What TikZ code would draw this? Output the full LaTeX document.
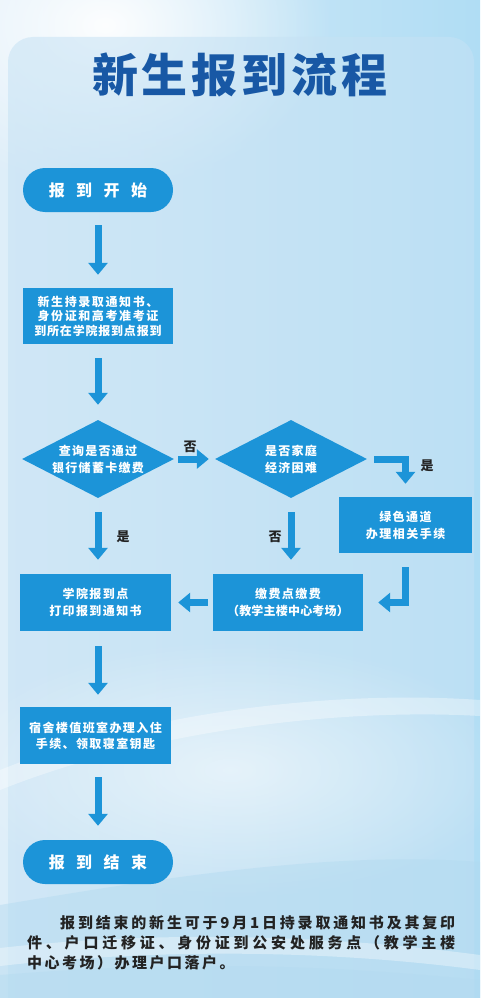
\documentclass[tikz,border=0pt]{standalone}
\usepackage{fontspec}
\setmainfont{Noto Sans CJK SC}
\usetikzlibrary{arrows.meta,shapes.geometric,fadings}

\definecolor{flowblue}{RGB}{28,148,216}
\definecolor{titleblue}{RGB}{24,88,165}
\definecolor{labelgray}{RGB}{35,35,35}
\definecolor{bgleft}{RGB}{222,238,249}
\definecolor{bgright}{RGB}{176,221,244}
\definecolor{panelblue}{RGB}{198,226,244}
\definecolor{waveblue}{RGB}{178,218,240}

% soft round glow: opaque in the middle, fully clear at the rim
\tikzfading[name=softglow, inner color=transparent!0, outer color=transparent!100]

% set a string character by character with a given gap between glyphs
\newcommand\spreadsep{}
\def\spreadloop#1{\ifx#1\relax\else#1\spreadsep\expandafter\spreadloop\fi}
\newcommand\spread[2]{\def\spreadsep{\hspace{#1}}\spreadloop#2\relax\unskip}

\begin{document}
\begin{tikzpicture}[x=1pt,y=-1pt,
  flow/.style={fill=flowblue, text=white, inner sep=0pt, align=center,
    font=\bfseries\fontsize{12}{17}\selectfont},
  stepbox/.style={flow, rectangle, minimum height=57pt},
  pill/.style={flow, rectangle, rounded corners=22pt, minimum width=150pt,
    minimum height=44pt, font=\bfseries\fontsize{16}{16}\selectfont},
  choice/.style={flow, diamond, minimum width=152pt, minimum height=78pt},
  choicetext/.style={text=white, inner sep=0pt, align=center,
    font=\bfseries\fontsize{12}{17}\selectfont},
  arr/.style={draw=flowblue, line width=7pt, -{Triangle[length=12pt,width=19pt]}},
  answer/.style={text=labelgray, inner sep=0pt, font=\bfseries\fontsize{13}{13}\selectfont},
  note/.style={text=labelgray, inner sep=0pt, anchor=base west,
    font=\bfseries\fontsize{15}{20}\selectfont}
]
\useasboundingbox (0,0) rectangle (480,998);

% ---- background ----
\shade[left color=bgleft, right color=bgright] (0,0) rectangle (480,998);
\fill[white, path fading=softglow, opacity=0.95] (-120,-140) rectangle (330,190);
\fill[panelblue, opacity=0.55, rounded corners=25pt] (8,37) rectangle (474,1040);
\fill[white, path fading=softglow, opacity=0.55] (-60,640) rectangle (520,900);
\fill[white, opacity=0.35] (0,770) .. controls (150,710) and (340,690) .. (480,700)
  -- (480,716) .. controls (340,708) and (150,730) .. (0,790) -- cycle;
\fill[waveblue, opacity=0.45] (0,905) .. controls (150,880) and (330,850) .. (480,862)
  -- (480,998) -- (0,998) -- cycle;
\fill[white, opacity=0.35] (0,948) .. controls (160,930) and (330,935) .. (480,955)
  -- (480,970) .. controls (330,950) and (160,948) .. (0,966) -- cycle;
\fill[waveblue, opacity=0.4] (0,975) .. controls (180,960) and (330,965) .. (480,980)
  -- (480,998) -- (0,998) -- cycle;

% ---- title ----
\node[text=titleblue, font=\bfseries\fontsize{46}{46}\selectfont, inner sep=0pt]
  (title) at (240,75) {\spread{4pt}{新生报到流程}};

% ---- flow nodes ----
\node[pill] (start) at (98,190) {\spread{11.5pt}{报到开始}};
\node[stepbox, minimum width=150pt, minimum height=56pt] (bring) at (98,316)
  {\spread{1.6pt}{新生持录取通知书、}\\[-2.5pt]\spread{1.6pt}{身份证和高考准考证}\\[-2.5pt]\spread{0.8pt}{到所在学院报到点报到}};
\node[choice] (bank) at (98,459) {};
\node[choicetext] (banktext) at (bank) {\spread{1.3pt}{查询是否通过}\\\spread{1.3pt}{银行储蓄卡缴费}};
\node[choice] (hardship) at (291,459) {};
\node[choicetext] (hardshiptext) at (hardship) {\spread{1.3pt}{是否家庭}\\\spread{1.3pt}{经济困难}};
\node[stepbox, minimum width=133pt, minimum height=56pt] (green) at (405.5,525)
  {\spread{1.5pt}{绿色通道}\\\spread{1.5pt}{办理相关手续}};
\node[stepbox, minimum width=151pt] (college) at (95.5,602.5)
  {\spread{1.4pt}{学院报到点}\\\spread{1.4pt}{打印报到通知书}};
\node[stepbox, minimum width=150pt] (pay) at (288,602.5)
  {\spread{1.4pt}{缴费点缴费}\\\spread{0.2pt}{（教学主楼中心考场）}};
\node[stepbox, minimum width=151pt] (dorm) at (95.5,735.5)
  {\spread{1.4pt}{宿舍楼值班室办理入住}\\[-1pt]\spread{1.4pt}{手续、领取寝室钥匙}};
\node[pill] (finish) at (98,862) {\spread{11.5pt}{报到结束}};

% ---- connectors ----
\draw[arr, shorten <=13pt, shorten >=13pt] (start) -- (bring);
\draw[arr, shorten <=14pt, shorten >=15pt] (bring) -- (bank);
\draw[arr, shorten <=4pt, shorten >=6pt] (bank.east) -- (hardship.west);
\draw[arr, shorten <=7pt, shorten >=13pt] (hardship.east) -| (green.north);
\draw[arr, shorten <=14pt, shorten >=14pt] (bank.south) -- (bank.south |- college.north);
\draw[arr, shorten <=14pt, shorten >=14pt] (hardship.south) -- (hardship.south |- pay.north);
\draw[arr, shorten <=14pt, shorten >=15pt] (green.south) |- (pay.east);
\draw[arr, shorten <=5pt, shorten >=7pt] (pay.west) -- (college.east);
\draw[arr, shorten <=15pt, shorten >=12pt] (bank.south |- college.south) -- (bank.south |- dorm.north);
\draw[arr, shorten <=13pt, shorten >=14pt] (bank.south |- dorm.south) -- (finish.north);

% ---- branch labels ----
\node[answer] (noA) at (190,447) {否};
\node[answer] (yesB) at (427,466) {是};
\node[answer] (yesA) at (123,537) {是};
\node[answer] (noB) at (275,537) {否};

% ---- closing note ----
\node[note] (line1) at (60,928)
  {\makebox[395pt][s]{\spread{0pt plus 1fil}{报到结束的新生可于9月1日持录取通知书及其复印}}};
\node[note] (line2) at (27,948)
  {\makebox[428pt][s]{\spread{0pt plus 1fil}{件、户口迁移证、身份证到公安处服务点（教学主楼}}};
\node[note] (line3) at (27,968) {\spread{2.5pt}{中心考场）办理户口落户。}};
\end{tikzpicture}
\end{document}
